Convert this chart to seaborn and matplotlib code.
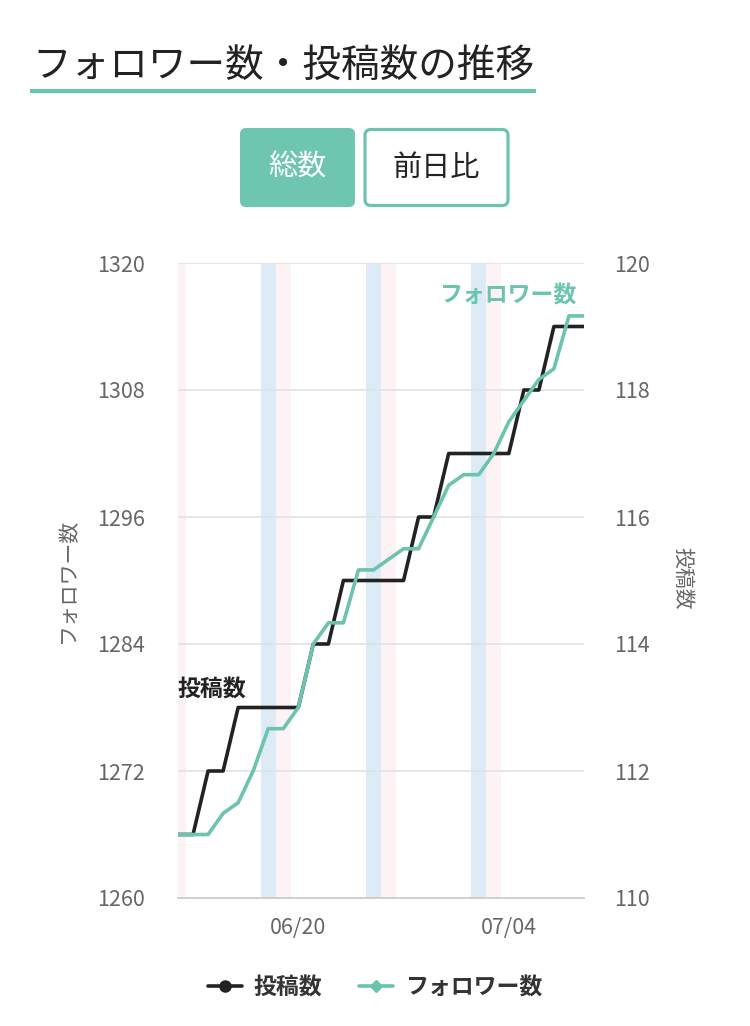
import pandas as pd
import numpy as np
import matplotlib
matplotlib.use('Agg')
import matplotlib.pyplot as plt
import matplotlib.dates as mdates
from matplotlib.lines import Line2D
from matplotlib.patches import FancyBboxPatch
import seaborn as sns

# --- data ---
dates = pd.date_range('2022-06-12', '2022-07-09', freq='D')
followers = [1266, 1266, 1266, 1268, 1269, 1272, 1276, 1276, 1278, 1284,
             1286, 1286, 1291, 1291, 1292, 1293, 1293, 1296, 1299, 1300,
             1300, 1302, 1305, 1307, 1309, 1310, 1315, 1315]
posts = [111, 111, 112, 112, 113, 113, 113, 113, 113, 114,
         114, 115, 115, 115, 115, 115, 116, 116, 117, 117,
         117, 117, 117, 118, 118, 119, 119, 119]
saturdays = ['2022-06-18', '2022-06-25', '2022-07-02']
sundays = ['2022-06-12', '2022-06-19', '2022-06-26', '2022-07-03']
tick_dates = ['2022-06-20', '2022-07-04']
left_ticks = [1260, 1272, 1284, 1296, 1308, 1320]
right_ticks = [110, 112, 114, 116, 118, 120]

df = pd.DataFrame({'date': dates, 'followers': followers, 'posts': posts})

TEAL = '#6cc3ae'
DARK = '#222222'
GRAY = '#666666'

sns.set_theme(style='white')
plt.rcParams['font.family'] = ['Noto Sans CJK JP', 'DejaVu Sans']

fig = plt.figure(figsize=(7.5, 10.26), dpi=100)
W, H = 750, 1026

# --- header: title + toggle buttons ---
deco = fig.add_axes([0, 0, 1, 1], zorder=-5)
deco.set_xlim(0, W)
deco.set_ylim(H, 0)
deco.axis('off')
deco.text(32, 66, 'フォロワー数・投稿数の推移', fontsize=27.8, color=DARK,
          va='center', ha='left')
deco.plot([30, 536], [91, 91], color=TEAL, lw=3, solid_capstyle='butt')
deco.add_patch(FancyBboxPatch((240, 128), 115, 79,
                              boxstyle='round,pad=0,rounding_size=6',
                              fc='#6ec6b1', ec='none'))
deco.text(297.5, 168, '総数', fontsize=21, color='white', ha='center', va='center')
deco.add_patch(FancyBboxPatch((365, 129.5), 143, 76,
                              boxstyle='round,pad=0,rounding_size=6',
                              fc='white', ec=TEAL, lw=2.3))
deco.text(436.5, 168, '前日比', fontsize=21, color=DARK, ha='center', va='center')

# --- main chart ---
ax = fig.add_axes([178 / W, 128 / H, 406 / W, 635 / H])
ax2 = ax.twinx()
ax.set_zorder(ax2.get_zorder() + 1)
ax.patch.set_visible(False)

sns.lineplot(data=df, x='date', y='posts', ax=ax2, color=DARK, lw=2.6)
sns.lineplot(data=df, x='date', y='followers', ax=ax, color=TEAL, lw=2.6)

half = pd.Timedelta(hours=12)
for d in pd.to_datetime(saturdays):
    ax2.axvspan(d - half, d + half, color='#dcebf5', lw=0, zorder=0)
for d in pd.to_datetime(sundays):
    ax2.axvspan(d - half, d + half, color='#fdf2f4', lw=0, zorder=0)

ax.set_xlim(dates[0], dates[-1])
ax.set_ylim(1260, 1320)
ax.set_yticks(left_ticks)
ax2.set_ylim(110, 120)
ax2.set_yticks(right_ticks)
ax2.grid(axis='y', color='#e2e2e2', lw=1.2)
ax2.set_axisbelow(True)

ax.set_xticks(pd.to_datetime(tick_dates))
ax.xaxis.set_major_formatter(mdates.DateFormatter('%m/%d'))

for a in (ax, ax2):
    a.set_xlabel('')
    a.set_ylabel('')
    for s in ('top', 'left', 'right'):
        a.spines[s].set_visible(False)
ax2.spines['bottom'].set_visible(False)
ax.spines['bottom'].set_color('#cccccc')
ax.spines['bottom'].set_linewidth(1.3)

ax.tick_params(axis='y', length=0, pad=24, labelsize=15.5, labelcolor=GRAY)
ax.tick_params(axis='x', length=12, width=1.2, color='#cccccc', pad=2,
               labelsize=15.5, labelcolor=GRAY)
ax2.tick_params(axis='y', length=0, pad=22, labelsize=15.5, labelcolor=GRAY)

# axis titles
fig.text(68 / W, 1 - 580 / H, 'フォロワー数', rotation=90, fontsize=15,
         color=GRAY, ha='center', va='center')
fig.text(682 / W, 1 - 578 / H, '投稿数', rotation=270, fontsize=15,
         color=GRAY, ha='center', va='center')

# series labels inside the plot
ax.text(0.0, (898 - 690) / 635, '投稿数', transform=ax.transAxes, fontsize=16.5,
        fontweight='bold', color=DARK, ha='left', va='center')
ax.text((576 - 178) / 406, (898 - 296) / 635, 'フォロワー数', transform=ax.transAxes,
        fontsize=16.5, fontweight='bold', color=TEAL, ha='right', va='center')

# legend
handles = [Line2D([], [], color=DARK, lw=2.6, marker='o', markersize=8),
           Line2D([], [], color=TEAL, lw=2.6, marker='D', markersize=6.5)]
leg = fig.legend(handles, ['投稿数', 'フォロワー数'], loc='center',
                 bbox_to_anchor=(0.5, 1 - 988 / H), ncol=2, frameon=False,
                 prop={'weight': 'bold', 'size': 16.5},
                 handlelength=1.5, handletextpad=0.5, columnspacing=1.6)
for t in leg.get_texts():
    t.set_color('#333333')

fig.savefig('out.png', dpi=100)
